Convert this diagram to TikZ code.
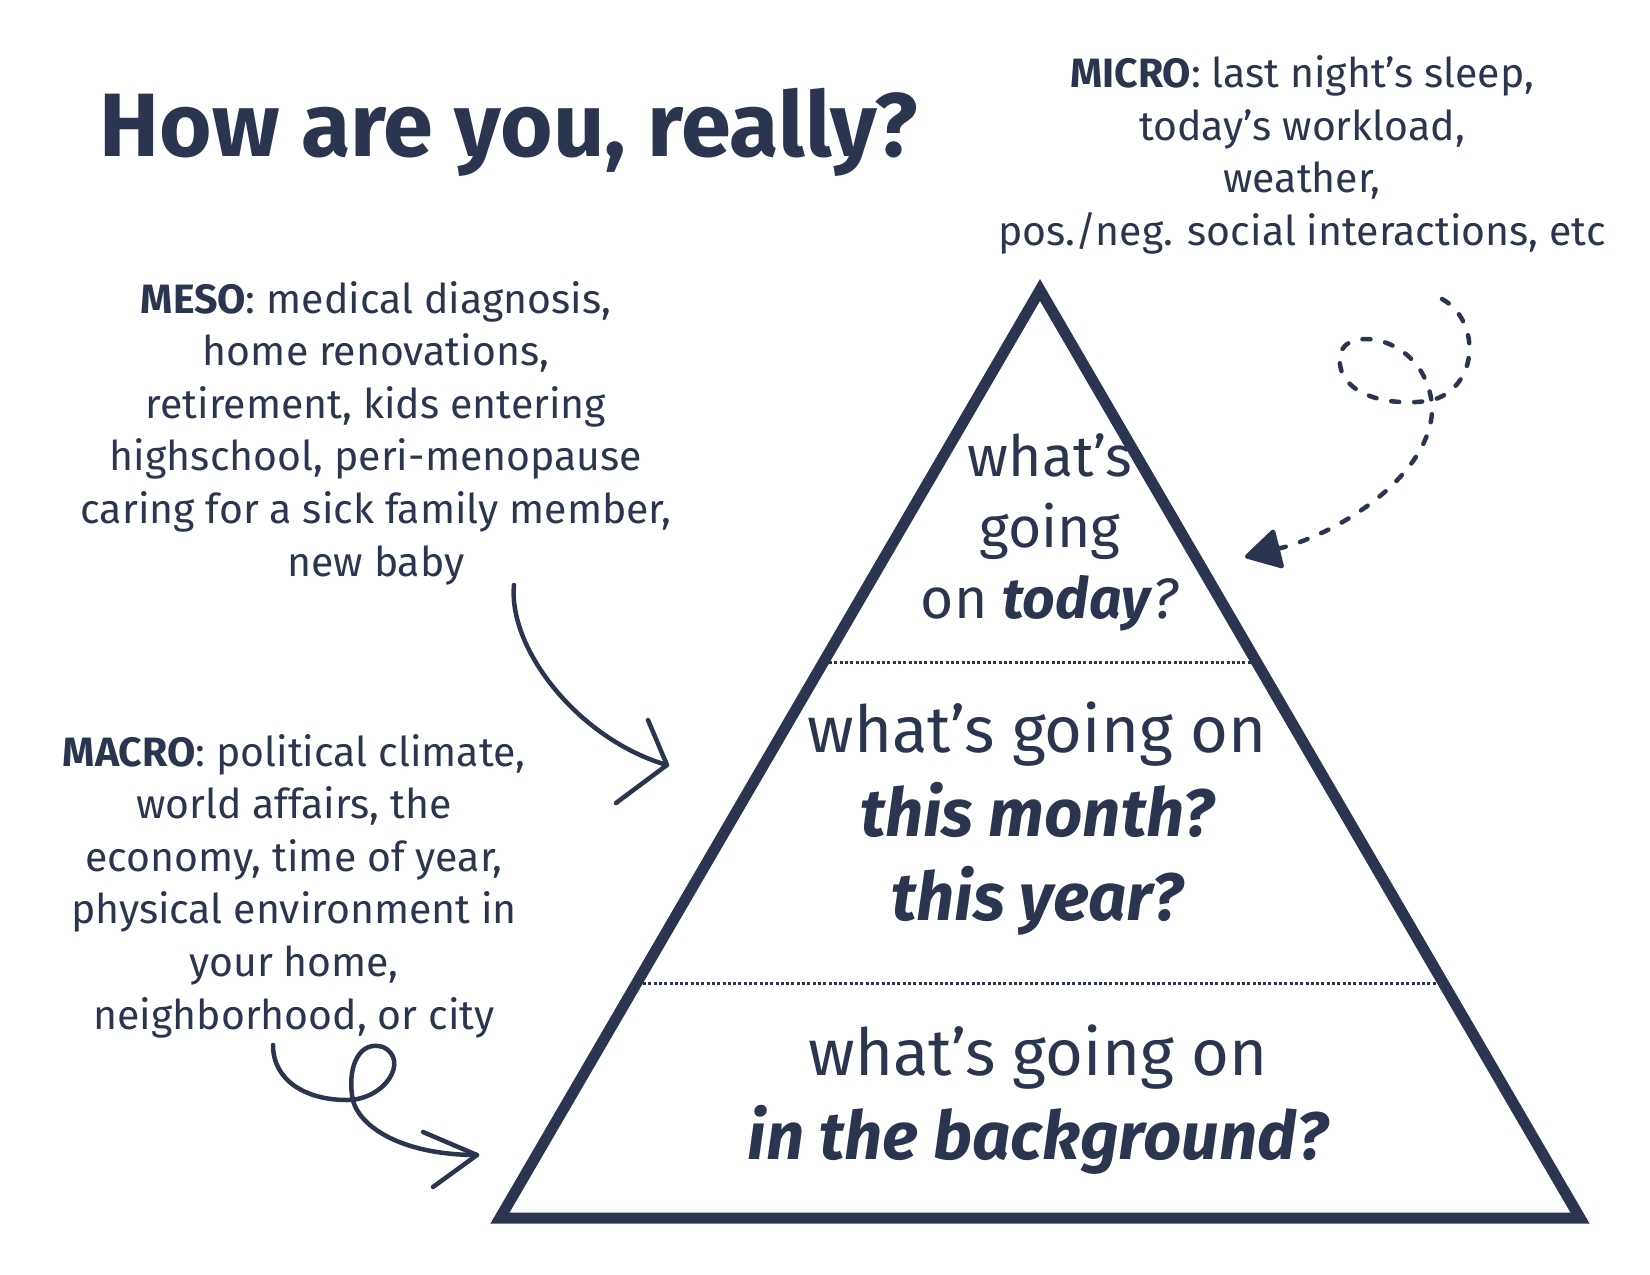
\documentclass[tikz,border=0pt]{standalone}
\usepackage{fontspec}
\setmainfont{Fira Sans}
\usetikzlibrary{arrows.meta,positioning}
\definecolor{navy}{HTML}{2B3550}
\newcommand{\levelbold}[1]{{\fontsize{67}{84}\selectfont\bfseries\itshape #1}}

\begin{document}
\begin{tikzpicture}[x=1pt,y=-1pt,color=navy,text=navy,line join=round]
        \tikzstyle{note}=[align=center,inner sep=0pt,font=\fontsize{41}{52.6}\selectfont]
        \tikzstyle{level}=[align=center,inner sep=0pt,font=\fontsize{65}{84}\selectfont]
        \tikzstyle{tiplevel}=[align=center,inner sep=0pt,font=\fontsize{57}{71}\selectfont]
        \tikzstyle{sketch}=[line width=4.5pt,line cap=round]
        \tikzstyle{divider}=[line width=3pt,dash pattern=on 3pt off 2.3pt]
        \useasboundingbox (0,0) rectangle (1650,1275);

        % pyramid
        \coordinate (apex) at (1040,290);
        \coordinate (left) at (500,1218);
        \coordinate (right) at (1580,1218);
        \draw[line width=11pt,line join=miter] (apex) -- (left) -- (right) -- cycle;
        \draw[divider] (829,662) -- (1251,662);
        \draw[divider] (643,983) -- (1437,983);

        \node[tiplevel] (today) at (1050,532) {what’s\\going\\on \textbf{\textit{today}}\textit{?}};
        \node[level]    (month) at (1037,819) {what’s going on\\\levelbold{this month?}\\\levelbold{this year?}};
        \node[level]    (back)  at (1038,1100) {what’s going on\\\levelbold{in the background?}};

        % title and notes
        \node[inner sep=0pt,font=\fontsize{90}{100}\selectfont\bfseries] (title) at (509,132) {How are you, really?};
        \node[note] (micro) at (1302,155) {\textbf{MICRO}: last night’s sleep,\\today’s workload,\\weather,\\pos./neg. social interactions, etc};
        \node[note] (meso)  at (376,433) {\textbf{MESO}: medical diagnosis,\\home renovations,\\retirement, kids entering\\highschool, peri-menopause\\caring for a sick family member,\\new baby};
        \node[note] (macro) at (294,886) {\textbf{MACRO}: political climate,\\world affairs, the\\economy, time of year,\\physical environment in\\your home,\\neighborhood, or city};

        % arrows
        \coordinate (micro tail) at (1442,299);
        \coordinate (micro tip)  at (1245,557);
        \draw[sketch,dash pattern=on 8pt off 15pt,-{Triangle[length=38pt,width=42pt,round]}]
              (micro tail) .. controls (1480,320) and (1480,385) .. (1433,400)
                           .. controls (1390,408) and (1335,395) .. (1340,355)
                           .. controls (1345,325) and (1425,335) .. (1432,405)
                           .. controls (1435,470) and (1345,532) .. (micro tip);

        \coordinate (meso tail) at (514,585);
        \coordinate (meso tip)  at (667,765);
        \draw[sketch] (meso tail) .. controls (508,650) and (580,740) .. (meso tip);
        \draw[sketch] (648,720) -- (meso tip) -- (616,803);

        \coordinate (macro tail) at (273,1045);
        \coordinate (macro tip)  at (477,1155);
        \draw[sketch] (macro tail) .. controls (273,1080) and (305,1100) .. (347,1100)
                                   .. controls (385,1100) and (410,1060) .. (383,1047)
                                   .. controls (360,1040) and (348,1065) .. (352,1095)
                                   .. controls (355,1125) and (400,1155) .. (macro tip);
        \draw[sketch] (423,1132) -- (macro tip) -- (433,1187);
\end{tikzpicture}
\end{document}
